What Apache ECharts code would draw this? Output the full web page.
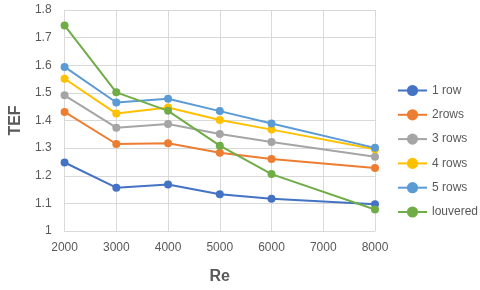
<!DOCTYPE html>
<html><head><meta charset="utf-8">
<script src="https://cdn.jsdelivr.net/npm/echarts@6/dist/echarts.min.js"></script>
<style>html,body{margin:0;padding:0;background:#fff}#c{width:480px;height:290px}</style>
</head><body><div id="c"></div>
<script>
var reValues = [2000, 3000, 4000, 5000, 6000, 8000];
var seriesNames = ['1 row', '2rows', '3 rows', '4 rows', '5 rows', 'louvered'];
var row1 = [1.248, 1.157, 1.168, 1.133, 1.117, 1.097];
var rows2 = [1.431, 1.315, 1.318, 1.283, 1.261, 1.228];
var rows3 = [1.491, 1.374, 1.387, 1.351, 1.322, 1.269];
var rows4 = [1.551, 1.425, 1.447, 1.402, 1.367, 1.296];
var rows5 = [1.594, 1.465, 1.479, 1.434, 1.389, 1.301];
var louvered = [1.744, 1.502, 1.435, 1.309, 1.206, 1.078];
var colors = ['#4472C4', '#ED7D31', '#A5A5A5', '#FFC000', '#5B9BD5', '#70AD47'];
var allData = [row1, rows2, rows3, rows4, rows5, louvered];

var font = 'Liberation Sans, Arial, sans-serif';
var chart = echarts.init(document.getElementById('c'), null, {renderer: 'canvas'});
chart.setOption({
  animation: false,
  color: colors,
  grid: {left: 61, right: 105, top: 10, bottom: 54, containLabel: false},
  legend: {
    orient: 'vertical', left: 392, top: 79.5, itemWidth: 29, itemHeight: 14, itemGap: 12.3,
    textStyle: {fontFamily: font, fontSize: 12, color: '#595959'},
    data: seriesNames
  },
  xAxis: {
    type: 'value', min: 2000, max: 8000, interval: 1000,
    name: 'Re', nameLocation: 'middle', nameGap: 38,
    nameTextStyle: {fontFamily: font, fontSize: 16, fontWeight: 'bold', color: '#595959'},
    axisLine: {show: true, lineStyle: {color: '#d9d9d9', width: 1}},
    axisTick: {show: false},
    axisLabel: {fontFamily: font, fontSize: 12, color: '#595959', margin: 11,
      formatter: function (v) { return String(v); }},
    splitLine: {show: true, lineStyle: {color: '#d9d9d9', width: 1}}
  },
  yAxis: {
    type: 'value', min: 1, max: 1.8, interval: 0.1,
    name: 'TEF', nameLocation: 'middle', nameGap: 32, nameRotate: 90,
    nameTextStyle: {fontFamily: font, fontSize: 16, fontWeight: 'bold', color: '#595959'},
    axisLine: {show: true, lineStyle: {color: '#d9d9d9', width: 1}},
    axisTick: {show: false},
    axisLabel: {fontFamily: font, fontSize: 12, color: '#595959', margin: 13},
    splitLine: {show: true, lineStyle: {color: '#d9d9d9', width: 1}}
  },
  series: seriesNames.map(function (n, i) {
    return {
      name: n, type: 'line',
      data: reValues.map(function (x, j) { return [x, allData[i][j]]; }),
      symbol: 'circle', symbolSize: 8,
      lineStyle: {width: 2, color: colors[i]},
      itemStyle: {color: colors[i]}
    };
  })
});
</script></body></html>
